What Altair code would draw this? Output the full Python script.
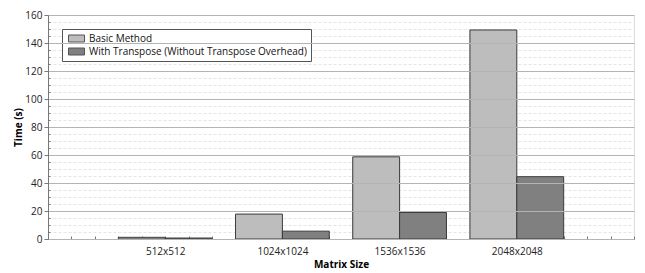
import altair as alt
import pandas as pd

categories = ["512x512", "1024x1024", "1536x1536", "2048x2048"]
basic = [1.2, 17.8, 58.7, 149.3]
transpose = [0.7, 5.6, 18.9, 44.5]
series_names = ["Basic Method", "With Transpose (Without Transpose Overhead)"]
series_fills = ["#bdbdbd", "#808080"]

rows = []
for i, cat in enumerate(categories):
    rows.append({"cat": cat, "idx": i, "series": series_names[0], "x0": i - 0.4, "x1": i, "time": basic[i]})
    rows.append({"cat": cat, "idx": i, "series": series_names[1], "x0": i, "x1": i + 0.4, "time": transpose[i]})
df = pd.DataFrame(rows)

FONT = "Open Sans"
label_expr = " : ".join(
    [f"datum.value == {i} ? '{c}'" for i, c in enumerate(categories)]
) + " : ''"
minor_x = [round(-1 + 0.2 * k, 1) for k in range(26)]
major_y = list(range(0, 161, 20))
minor_y = list(range(0, 161, 5))

xscale = alt.Scale(domain=[-1, 4], nice=False, zero=False)
yscale = alt.Scale(domain=[0, 160], nice=False)

bars = alt.Chart(df).mark_bar(stroke="#3a3a3a", strokeWidth=1).encode(
    x=alt.X("x0:Q", scale=xscale, axis=alt.Axis(
        values=[0, 1, 2, 3], labelExpr=label_expr, ticks=False, grid=False,
        title="Matrix Size", titleFont=FONT, titleFontSize=10, titleFontWeight="bold",
        titleColor="#000", labelFont=FONT, labelFontSize=10, labelColor="#222",
        labelPadding=7, titlePadding=3, domainColor="#777", orient="bottom")),
    x2="x1:Q",
    y=alt.Y("time:Q", scale=yscale, stack=None, axis=alt.Axis(
        values=major_y, grid=True, gridColor="#b4b4b4", gridWidth=1, zindex=1,
        tickSize=4, tickColor="#777", domainColor="#777",
        title="Time (s)", titleFont=FONT, titleFontSize=10, titleFontWeight="bold",
        titleColor="#000", titlePadding=1, labelFont=FONT, labelFontSize=10,
        labelColor="#222", labelPadding=2, orient="left")),
    y2=alt.datum(0),
    color=alt.Color("series:N", scale=alt.Scale(domain=series_names, range=series_fills),
                    legend=alt.Legend(
                        title=None, orient="none", legendX=14, legendY=14,
                        symbolType="M-0.6,-0.7H2.6V0.7H-0.6Z", symbolSize=100,
                        symbolStrokeColor="#555", symbolStrokeWidth=1, symbolOpacity=1,
                        labelFont=FONT, labelFontSize=10, labelColor="#111",
                        labelLimit=0,
                        strokeColor="#555", fillColor="white", padding=4,
                        rowPadding=2, labelOffset=12, zindex=0)),
)

minor = alt.Chart(df).mark_bar(opacity=0).encode(
    x=alt.X("x0:Q", scale=xscale, axis=alt.Axis(
        values=minor_x, labels=False, domain=False, grid=False, title=None,
        tickSize=3, tickColor="#777", offset=-3, orient="bottom")),
    x2="x1:Q",
    y=alt.Y("time:Q", scale=yscale, stack=None, axis=alt.Axis(
        values=minor_y, labels=False, domain=False, grid=True,
        gridColor="#e4e4e4", gridDash=[3, 2], gridWidth=1, title=None,
        tickSize=2, tickColor="#777", offset=-2, orient="left", zindex=0)),
    y2=alt.datum(0),
)

chart = alt.layer(minor, bars).resolve_axis(x="independent", y="independent").resolve_scale(
    x="shared", y="shared"
).properties(
    width=586, height=224,
    autosize=alt.AutoSizeParams(type="none"),
    padding={"left": 40, "top": 7, "right": 3, "bottom": 34},
).configure_view(stroke=None).configure(background="white")

chart.save("out.html", embed_options={"renderer": "svg", "actions": False})
